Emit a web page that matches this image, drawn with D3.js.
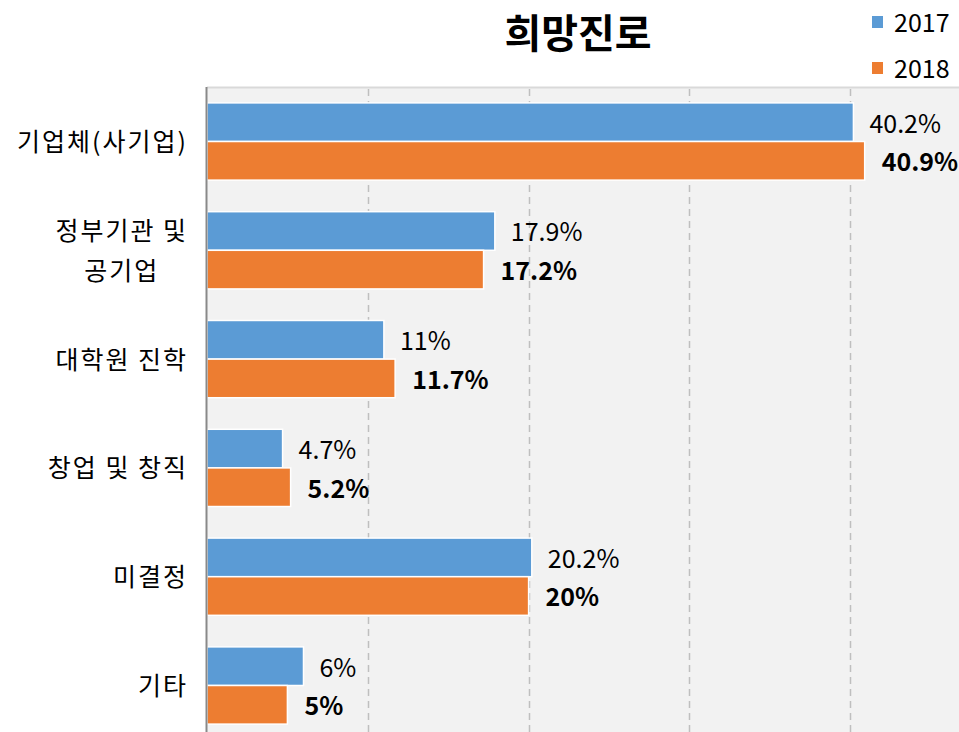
<!DOCTYPE html>
<html>
<head>
<meta charset="utf-8">
<script src="https://cdn.jsdelivr.net/npm/d3@7"></script>
<style>
  body { margin: 0; background: #fff; }
  svg { display: block; font-family: "Noto Sans CJK KR", "Noto Sans", sans-serif; }
</style>
</head>
<body>
<div id="chart"></div>
<script>
// chart data
var categories = ["기업체(사기업)", "정부기관 및|공기업", "대학원 진학", "창업 및 창직", "미결정", "기타"];
var years = ["2017", "2018"];
var values2017 = [40.2, 17.9, 11, 4.7, 20.2, 6];
var values2018 = [40.9, 17.2, 11.7, 5.2, 20, 5];
var xTicks = [10, 20, 30, 40, 50];
var colors = ["#5b9bd5", "#ed7d31"];

var W = 959, H = 732;
var plot = {left: 207, top: 87, right: 1011, bottom: 740};

var svg = d3.select("#chart").append("svg")
  .attr("width", W)
  .attr("height", H);

var x = d3.scaleLinear().domain([0, 50]).range([plot.left, plot.right]);

var y = d3.scaleBand()
  .domain(categories)
  .range([plot.top, plot.bottom])
  .paddingInner(0.29)
  .paddingOuter(0.146);

var ySub = d3.scaleBand()
  .domain(years)
  .range([0, y.bandwidth()]);

// plot background
svg.append("rect")
  .attr("x", plot.left).attr("y", plot.top)
  .attr("width", plot.right - plot.left).attr("height", plot.bottom - plot.top)
  .attr("fill", "#f2f2f2");

svg.append("line")
  .attr("x1", plot.left).attr("x2", plot.right)
  .attr("y1", plot.top + 0.5).attr("y2", plot.top + 0.5)
  .attr("stroke", "#d9d9d9").attr("stroke-width", 2);

// dashed gridlines
svg.append("g").selectAll("line")
  .data(xTicks)
  .join("line")
  .attr("x1", d => Math.round(x(d)) + 0.5).attr("x2", d => Math.round(x(d)) + 0.5)
  .attr("y1", plot.top + 2).attr("y2", plot.bottom)
  .attr("stroke", "#bfbfbf")
  .attr("stroke-width", 1.5)
  .attr("stroke-dasharray", "7,5");

// rows: one object per category
var rows = categories.map(function(c, i) {
  return {name: c, vals: [values2017[i], values2018[i]]};
});

var groups = svg.append("g").selectAll("g")
  .data(rows)
  .join("g")
  .attr("transform", d => "translate(0," + y(d.name) + ")");

groups.selectAll("rect")
  .data(d => d.vals.map((v, j) => ({year: years[j], v: v, j: j})))
  .join("rect")
  .attr("x", x(0))
  .attr("y", d => ySub(d.year))
  .attr("width", d => x(d.v) - x(0))
  .attr("height", ySub.bandwidth())
  .attr("fill", d => colors[d.j])
  .attr("stroke", "#fff")
  .attr("stroke-width", 1.5);

groups.selectAll("text.val")
  .data(d => d.vals.map((v, j) => ({year: years[j], v: v, j: j})))
  .join("text")
  .attr("class", "val")
  .attr("x", d => x(d.v) + (d.j == 0 ? 16 : 17))
  .attr("y", d => ySub(d.year) + ySub.bandwidth() / 2)
  .attr("dy", "0.42em")
  .attr("font-size", 25)
  .attr("font-weight", d => d.j == 1 ? "bold" : "normal")
  .attr("fill", "#000")
  .text(d => d.v + "%");

// left axis line
svg.append("line")
  .attr("x1", plot.left - 0.5).attr("x2", plot.left - 0.5)
  .attr("y1", plot.top).attr("y2", plot.bottom)
  .attr("stroke", "#898989").attr("stroke-width", 2);

// category labels
var labelRight = 188;
var labels = svg.append("g").selectAll("g")
  .data(categories)
  .join("g");

labels.each(function(c) {
  var g = d3.select(this);
  var lines = c.split("|");
  var cy = y(c) + y.bandwidth() / 2;
  var lh = 40;
  var ts = lines.map(function(l, k) {
    return g.append("text")
      .attr("y", cy + (k - (lines.length - 1) / 2) * lh)
      .attr("dy", "0.38em")
      .attr("font-size", 25)
      .attr("letter-spacing", 2)
      .attr("fill", "#000")
      .text(l);
  });
  var widest = d3.max(ts, t => t.node().getComputedTextLength());
  ts.forEach(function(t) {
    t.attr("x", labelRight - widest / 2).attr("text-anchor", "middle");
  });
});

// title
svg.append("text")
  .attr("x", 578).attr("y", 48)
  .attr("text-anchor", "middle")
  .attr("font-size", 40)
  .attr("font-weight", "bold")
  .attr("fill", "#000")
  .text("희망진로");

// legend
var legend = svg.append("g").selectAll("g")
  .data(years)
  .join("g")
  .attr("transform", (d, i) => "translate(872," + (22 + i * 46) + ")");

legend.append("rect")
  .attr("x", 0).attr("y", -6)
  .attr("width", 11).attr("height", 12)
  .attr("fill", (d, i) => colors[i]);

legend.append("text")
  .attr("x", 22).attr("dy", "0.38em")
  .attr("font-size", 25)
  .attr("fill", "#000")
  .text(d => d);
</script>
</body>
</html>
